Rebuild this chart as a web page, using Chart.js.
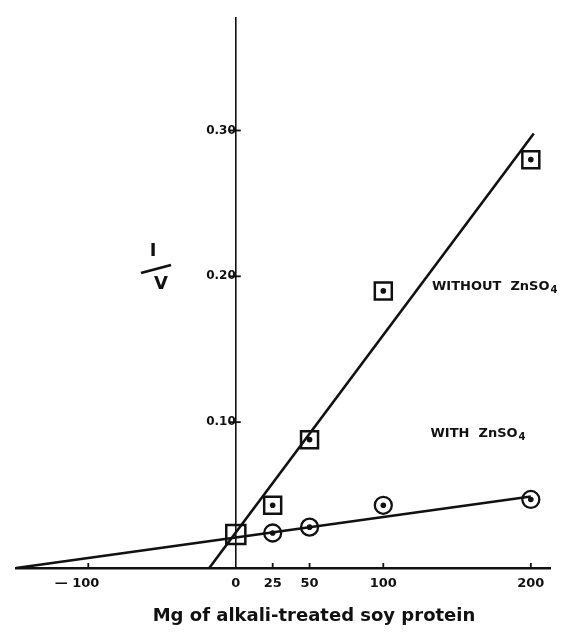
<!DOCTYPE html>
<html>
<head>
<meta charset="utf-8">
<script src="https://cdn.jsdelivr.net/npm/chart.js@4/dist/chart.umd.min.js"></script>
<style>
  html, body { margin: 0; padding: 0; background: #fff; }
  #wrap { width: 575px; height: 632px; }
</style>
</head>
<body>
<div id="wrap"><canvas id="chart" width="575" height="632"></canvas></div>
<script>
// values
const squareDoses = [0, 25, 50, 100, 200];
const withoutZn = [0.023, 0.043, 0.088, 0.19, 0.28];
const circleDoses = [25, 50, 100, 200];
const withZn = [0.024, 0.028, 0.043, 0.047];

// fitted lines (end points)
const fitWithoutX = [-18, 202];
const fitWithoutY = [0, 0.298];
const fitWithX = [-149, 200];
const fitWithY = [0, 0.049];

const xTicks = [-100, 0, 25, 50, 100, 200];
const yTicks = [0.1, 0.2, 0.3];

const ink = '#111';
const fontFam = '"DejaVu Sans", sans-serif';

function pts(xs, ys) {
  return xs.map((x, i) => ({ x: x, y: ys[i] }));
}

// tick marks that cross the y axis and stand up from the x axis
const tickMarks = {
  id: 'tickMarks',
  afterDraw(chart) {
    const ctx = chart.ctx;
    const xs = chart.scales.x, ys = chart.scales.y;
    const x0 = xs.getPixelForValue(0), y0 = ys.getPixelForValue(0);
    ctx.save();
    ctx.strokeStyle = ink;
    ctx.lineWidth = 1.8;
    yTicks.forEach(v => {
      const py = ys.getPixelForValue(v);
      ctx.beginPath();
      ctx.moveTo(x0 - 7, py);
      ctx.lineTo(x0 + 5, py);
      ctx.stroke();
    });
    xTicks.forEach(v => {
      if (v === 0) return;
      const px = xs.getPixelForValue(v);
      ctx.beginPath();
      ctx.moveTo(px, y0);
      ctx.lineTo(px, y0 - 5);
      ctx.stroke();
    });

    // series labels
    ctx.fillStyle = ink;
    ctx.textBaseline = 'middle';
    function zinc(label, vx, vy) {
      let px = xs.getPixelForValue(vx), py = ys.getPixelForValue(vy);
      ctx.font = 'bold 13px ' + fontFam;
      ctx.textAlign = 'left';
      ctx.fillText(label, px, py);
      px += ctx.measureText(label).width;
      ctx.font = 'bold 10px ' + fontFam;
      ctx.fillText('4', px + 1, py + 4);
    }
    zinc('WITHOUT  ZnSO', 133, 0.193);
    zinc('WITH  ZnSO', 132, 0.092);

    // 1/V axis label
    ctx.font = 'bold 18px ' + fontFam;
    ctx.textAlign = 'center';
    ctx.fillText('I', 153, 251);
    ctx.fillText('V', 161, 284);
    ctx.lineWidth = 2.8;
    ctx.beginPath();
    ctx.moveTo(141, 273);
    ctx.lineTo(171, 265);
    ctx.stroke();

    // x axis title
    ctx.font = 'bold 18px ' + fontFam;
    ctx.fillText('Mg of alkali-treated soy protein', 314, 616);
    ctx.restore();
  }
};

new Chart(document.getElementById('chart'), {
  type: 'scatter',
  data: {
    datasets: [
      {
        label: 'fit without',
        type: 'line',
        data: pts(fitWithoutX, fitWithoutY),
        borderColor: ink,
        borderWidth: 2.6,
        pointRadius: 0,
        fill: false
      },
      {
        label: 'fit with',
        type: 'line',
        data: pts(fitWithX, fitWithY),
        borderColor: ink,
        borderWidth: 2.6,
        pointRadius: 0,
        fill: false
      },
      {
        label: 'WITHOUT ZnSO4',
        data: pts(squareDoses, withoutZn),
        pointStyle: 'rect',
        pointRadius: [13.5, 12, 12, 12, 12],
        backgroundColor: 'rgba(255,255,255,0)',
        borderColor: ink,
        borderWidth: 2.5
      },
      {
        label: 'WITH ZnSO4',
        data: pts(circleDoses, withZn),
        pointStyle: 'circle',
        pointRadius: 8.5,
        backgroundColor: 'rgba(255,255,255,0)',
        borderColor: ink,
        borderWidth: 2.3
      },
      {
        label: 'dots',
        data: pts(squareDoses.slice(1), withoutZn.slice(1)).concat(pts(circleDoses, withZn)),
        pointStyle: 'circle',
        pointRadius: 2.8,
        backgroundColor: ink,
        borderWidth: 0
      }
    ]
  },
  options: {
    responsive: false,
    animation: false,
    layout: { padding: { left: 13, right: 25, top: 10, bottom: 64 } },
    plugins: { legend: { display: false }, tooltip: { enabled: false } },
    scales: {
      x: {
        type: 'linear',
        position: { y: 0 },
        min: -149,
        max: 213,
        afterBuildTicks: s => { s.ticks = xTicks.map(v => ({ value: v })); },
        grid: { drawOnChartArea: false, drawTicks: false },
        border: { display: true, color: ink, width: 2.5 },
        ticks: {
          padding: 8,
          color: ink,
          font: { family: fontFam, weight: 'bold', size: 13 },
          callback: v => v === -100 ? '\u2014 100     ' : String(v)
        }
      },
      y: {
        type: 'linear',
        position: { x: 0 },
        min: 0,
        max: 0.377,
        afterBuildTicks: s => { s.ticks = yTicks.map(v => ({ value: v })); },
        grid: { drawOnChartArea: false, drawTicks: false },
        border: { display: true, color: ink, width: 1.6 },
        ticks: {
          padding: 11,
          color: ink,
          font: { family: fontFam, weight: 'bold', size: 12 },
          callback: v => v.toFixed(2)
        }
      }
    }
  },
  plugins: [tickMarks]
});
</script>
</body>
</html>
